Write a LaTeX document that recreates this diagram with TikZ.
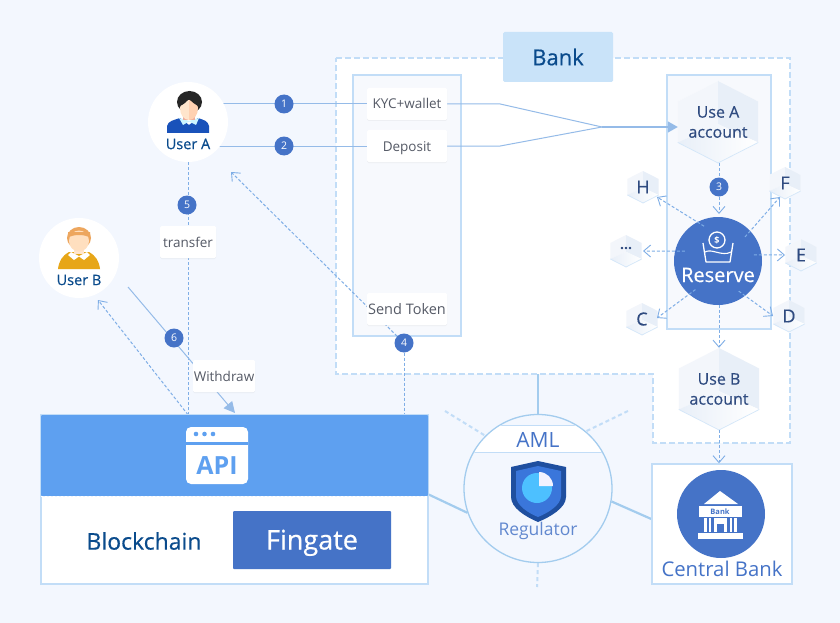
\documentclass[tikz,border=0pt]{standalone}
\usepackage{fontspec}
\setmainfont{Open Sans}
\newfontfamily\medfont[FakeBold=.5]{Open Sans}
\usetikzlibrary{arrows.meta,shadows}
\definecolor{pagebg}{HTML}{F3F7FE}
\definecolor{panelbg}{HTML}{F7F9FD}
\definecolor{edgeblue}{HTML}{C2DDF7}
\definecolor{titleblue}{HTML}{C9E3F9}
\definecolor{wireblue}{HTML}{95BBE8}
\definecolor{dashblue}{HTML}{7FAEE6}
\definecolor{deepblue}{HTML}{4573C7}
\definecolor{skyblue}{HTML}{5EA0F0}
\definecolor{navy}{HTML}{0A4B8C}
\definecolor{hexink}{HTML}{2F4B80}
\definecolor{labelink}{HTML}{555A66}
\definecolor{linkblue}{HTML}{A3CCEE}
\definecolor{hexleft}{HTML}{F3F6FB}
\definecolor{hexright}{HTML}{E8EFF8}
\definecolor{shieldedge}{HTML}{1F4F9F}
\definecolor{shieldblue}{HTML}{3A76DB}
\definecolor{piecyan}{HTML}{4DC0FF}
\pgfdeclarelayer{panel}
\pgfdeclarelayer{wires}
\pgfsetlayers{panel,wires,main}
\newcommand{\hexa}[3]{%
  \begin{scope}[shift={(#1,#2)},scale=#3]
    \fill[white] (0,-1) -- (.98,-.5) -- (.98,.5) -- (0,1) -- (-.98,.5) -- (-.98,-.5) -- cycle;
    \fill[hexleft] (0,-1) -- (0,.05) -- (-.98,.5) -- (-.98,-.5) -- cycle;
    \fill[hexright] (0,-1) -- (.98,-.5) -- (.98,.5) -- (0,.05) -- cycle;
    \shade[left color=hexright,right color=white] (0,.05) -- (.98,.5) -- (0,1) -- (-.98,.5) -- cycle;
    \draw[edgeblue!70,line width=.7pt] (-.98,.5) -- (0,1) -- (.98,.5);
  \end{scope}}
\begin{document}
\begin{tikzpicture}[x=1pt,y=-1pt,
  badge/.style={circle,fill=deepblue,text=white,inner sep=0pt,minimum size=19pt,font=\fontsize{10.5}{12}\selectfont},
  tag/.style={fill=white,text=labelink,rounded corners=1.5pt,inner sep=0pt,minimum height=32pt,text height=10pt,text depth=0pt,font=\fontsize{13.5}{15}\selectfont,drop shadow={opacity=.08,shadow xshift=0pt,shadow yshift=-1pt}},
  panelbox/.style={fill=panelbg,draw=edgeblue,line width=1.4pt,inner sep=0pt},
  whitebox/.style={fill=white,draw=edgeblue,line width=1.4pt,inner sep=0pt},
  wire/.style={draw=wireblue,line width=1pt},
  dashwire/.style={draw=dashblue,line width=1pt,dash pattern=on 3pt off 2pt},
  openarrow/.style={dashwire,-{Straight Barb[length=7pt,width=12pt,line width=.9pt]}},
  link/.style={draw=linkblue,line width=2.2pt},
  faintlink/.style={draw=edgeblue,line width=2pt,dash pattern=on 4pt off 3pt},
  whitecircle/.style={circle,fill=white,inner sep=0pt,minimum size=80pt},
  username/.style={text=navy,font=\fontsize{14.5}{16}\medfont},
  hexaccount/.style={text=hexink,align=center,inner sep=0pt,minimum width=80pt,minimum height=82pt,font=\fontsize{16}{20}\medfont},
  hexletter/.style={text=hexink,inner sep=0pt,minimum size=30pt,font=\fontsize{18}{20}\medfont}]
  \useasboundingbox (0,0) rectangle (840,623);
  % zona del banco
  \begin{pgfonlayer}{panel}
    \fill[pagebg] (0,0) rectangle (840,623);
    \fill[white] (336,58) -- (790,58) -- (790,443) -- (653,443) -- (653,374) -- (336,374) -- cycle;
    \draw[edgeblue,line width=1.5pt,dash pattern=on 6pt off 3pt] (336,58) -- (790,58) -- (790,443) -- (653,443) -- (653,374) -- (336,374) -- cycle;
    \node[panelbox,minimum width=108pt,minimum height=261pt] (frontpanel) at (407,205.5) {};
    \node[panelbox,minimum width=104pt,minimum height=254pt] (accountpanel) at (719,202) {};
  \end{pgfonlayer}
  \node[fill=titleblue,text=navy,rounded corners=1.5pt,minimum width=110pt,minimum height=50pt,inner sep=0pt,font=\fontsize{22}{24}\medfont] (banktitle) at (558,57) {Bank};
  % usuarios
  \node[whitecircle] (usera) at (188,122) {};
  \node[whitecircle] (userb) at (79,258) {};
  \fill[black!85] (189.5,102) ellipse (12.5 and 11);
  \fill[blue!65!cyan!70!black!90] (167,133) -- (167,126) .. controls (168,121) and (174,120) .. (180,118) -- (189,125) -- (198,118) .. controls (204,120) and (208,121) .. (209,126) -- (209,133) -- cycle;
  \fill[blue!20!cyan!20!white] (179,118) -- (189,121) -- (199,118) -- (196,125) -- (189,121.5) -- (183,125) -- cycle;
  \fill[red!40!brown!45!white] (183,113) rectangle (195,120);
  \fill[orange!20!white] (189,100) -- (189,120) .. controls (184,120) and (180,115) .. (180,108) .. controls (180,104) and (184,101) .. (189,100) -- cycle;
  \fill[red!20!orange!30!white] (189,100) -- (189,120) .. controls (194,120) and (198,115) .. (198,108) .. controls (198,104) and (194,101) .. (189,100) -- cycle;
  \fill[black!85] (180,106) .. controls (184,104) and (187,102) .. (189,98) .. controls (191,102) and (195,104) .. (198,106) -- (198,96) -- (180,96) -- cycle;
  \node[username] (useraname) at (188,144) {User A};
  \fill[orange!45!brown!70!yellow] (58,269) .. controls (59,261) and (62,256) .. (69,252) -- (89,252) .. controls (96,256) and (99,261) .. (100,269) -- cycle;
  \fill[white] (71,252) -- (79,256) -- (87,252) -- (90,255) -- (84,260) -- (79,256.5) -- (74,260) -- (68,255) -- cycle;
  \fill[orange!60!brown!70!white] (79,238) ellipse (12 and 11);
  \fill[orange!20!white] (74,245) rectangle (84,254);
  \fill[orange!25!white] (79,241) ellipse (10 and 10.5);
  \fill[orange!60!brown!70!white] (68,238) .. controls (72,234) and (86,234) .. (90,238) -- (90,232) -- (68,232) -- cycle;
  \node[username] (userbname) at (79,280) {User B};
  % cuentas
  \hexa{718}{122}{41}
  \hexa{719}{389}{41}
  \hexa{643}{187}{16}
  \hexa{785}{183}{16}
  \hexa{801}{255}{16}
  \hexa{789}{316}{16}
  \hexa{642}{319}{16}
  \hexa{626}{251}{16}
  \node[hexaccount] (useaccounta) at (718,122) {Use A\\account};
  \node[hexaccount] (useaccountb) at (719,389) {Use B\\account};
  \node[hexletter] (hexh) at (643,187) {H};
  \node[hexletter] (hexf) at (785,183) {F};
  \node[hexletter] (hexe) at (801,255) {E};
  \node[hexletter] (hexd) at (789,316) {D};
  \node[hexletter] (hexc) at (642,319) {C};
  \node[hexletter,font=\fontsize{14}{16}\selectfont\bfseries] (hexmore) at (626,249) {...};
  % reserva
  \node[circle,fill=deepblue,inner sep=0pt,minimum size=88pt] (reserve) at (718,261) {};
  \draw[white,line width=1.3pt] (717,240) circle (8);
  \draw[white,line width=1.3pt,line join=round] (703,243) -- (706,262) -- (730,262) -- (733,243);
  \draw[white,line width=1.1pt] (705,252) .. controls (712,248) and (722,257) .. (731,252);
  \node[text=white,inner sep=0pt,font=\fontsize{9}{10}\selectfont\bfseries] (coinsign) at (717,240) {\$};
  \node[text=white,inner sep=0pt,font=\fontsize{20}{22}\medfont] (reservename) at (718,275) {Reserve};
  % etiquetas
  \node[tag,minimum width=80pt] (kyc) at (407,104) {KYC+wallet};
  \node[tag,minimum width=80pt] (deposit) at (407,146) {Deposit};
  \node[tag,minimum width=80pt,font=\fontsize{14.5}{15}\selectfont] (sendtoken) at (407,309) {Send Token};
  \node[tag,minimum width=56pt] (transfer) at (188,242) {transfer};
  \node[tag,minimum width=62pt] (withdraw) at (224,376) {Withdraw};
  \node[badge] (step1) at (284,104) {1};
  \node[badge] (step2) at (284,146) {2};
  \node[badge] (step3) at (719,187) {3};
  \node[badge] (step4) at (404,343) {4};
  \node[badge] (step5) at (187,205) {5};
  \node[badge] (step6) at (174,338) {6};
  % cadena de bloques
  \node[whitebox,minimum width=387pt,minimum height=169pt] (chainbox) at (234.5,499.5) {};
  \node[fill=skyblue,rounded corners=1pt,inner sep=0pt,minimum width=387pt,minimum height=81pt] (apiband) at (234.5,455.5) {};
  \draw[white,line width=.7pt,dash pattern=on 2pt off 2pt] (apiband.south west) -- (apiband.south east);
  \node[fill=white,rounded corners=5pt,inner sep=0pt,minimum width=62pt,minimum height=57pt] (apiicon) at (217,455.5) {};
  \fill[skyblue] (186,442) rectangle (248,445);
  \fill[skyblue] (196,434) circle (2.3);
  \fill[skyblue] (204.5,434) circle (2.3);
  \fill[skyblue] (213,434) circle (2.3);
  \node[text=skyblue,inner sep=0pt,font=\fontsize{25}{27}\selectfont\bfseries] (apitext) at (217,466) {API};
  \node[text=navy,inner sep=0pt,font=\fontsize{23}{24}\medfont] (blockchain) at (144,541) {Blockchain};
  \node[fill=deepblue,text=white,rounded corners=1pt,inner sep=0pt,minimum width=158pt,minimum height=58pt,text height=19pt,text depth=0pt,font=\fontsize{27}{28}\medfont] (fingate) at (312,540) {Fingate};
  % regulador
  \node[circle,fill=pagebg,draw=linkblue,line width=1.3pt,inner sep=0pt,minimum size=148pt] (regulator) at (538,488.5) {};
  \begin{scope}
    \clip (538,488.5) circle (73);
    \fill[white] (460,425) rectangle (620,452);
    \draw[edgeblue,line width=.8pt] (460,425) -- (620,425);
    \draw[edgeblue,line width=.8pt] (460,452) -- (620,452);
  \end{scope}
  \node[text=deepblue,inner sep=0pt,font=\fontsize{21}{24}\selectfont] (aml) at (538,440) {AML};
  \fill[shieldedge] (538,461) -- (566,467) -- (566,497) .. controls (566,508) and (550,517) .. (538,522) .. controls (526,517) and (511,508) .. (511,497) -- (511,467) -- cycle;
  \fill[shieldblue] (538,466) -- (561,471) -- (561,496) .. controls (561,505) and (548,513) .. (538,517) .. controls (528,513) and (516,505) .. (516,496) -- (516,471) -- cycle;
  \fill[piecyan] (537,488) circle (15);
  \fill[blue!5!white] (539,486) -- (539,472) arc (-90:0:14) -- cycle;
  \node[text=deepblue!85!white,inner sep=0pt,font=\fontsize{17.5}{20}\selectfont] (regulatorname) at (538,531) {Regulator};
  % banco central
  \node[whitebox,minimum width=140pt,minimum height=120pt] (centralbox) at (722,524) {};
  \node[circle,fill=deepblue,inner sep=0pt,minimum size=88pt] (centralcircle) at (721,514) {};
  \fill[white] (720,491) -- (738,504) -- (704,504) -- cycle;
  \fill[white] (699,506) rectangle (742,517);
  \node[text=deepblue,inner sep=0pt,font=\fontsize{7.5}{8}\selectfont\bfseries] (iconbank) at (720,511.5) {Bank};
  \fill[white] (704,518) rectangle (707,532);
  \fill[white] (709,518) rectangle (711,532);
  \fill[white] (714,518) rectangle (727,532);
  \fill[deepblue] (717,524) rectangle (724,532);
  \fill[white] (730,518) rectangle (732,532);
  \fill[white] (734,518) rectangle (737,532);
  \fill[white] (698,533) rectangle (743,539);
  \node[text=deepblue,inner sep=0pt,font=\fontsize{20.3}{22}\selectfont] (centralname) at (722,569) {Central Bank};
  % conexiones
  \coordinate (merge) at (602,127);
  \coordinate (tokentip) at (231,172);
  \coordinate (userbtip) at (98,300);
  \coordinate (userbstart) at (128,287);
  \coordinate (withdrawtip) at (235,413);
  \coordinate (bankedge) at (538,374);
  \coordinate (faintleft) at (445,411);
  \coordinate (faintright) at (628,411);
  \coordinate (faintdown) at (537,587);
  \coordinate (tiph) at (657,197);
  \coordinate (tipf) at (780,197);
  \coordinate (tipmore) at (643,251);
  \coordinate (tipe) at (785,255);
  \coordinate (tipc) at (657,318);
  \coordinate (tipd) at (773,316);
  \coordinate (tipthree) at (719,214);
  \begin{pgfonlayer}{wires}
    \draw[wire] (usera.center |- kyc.west) -- (kyc.west);
    \draw[wire] (usera.center |- deposit.west) -- (deposit.west);
    \draw[wire] (kyc.east) -- ++(53,0) -- (merge);
    \draw[wire] (deposit.east) -- ++(53,0) -- (merge);
    \draw[dashwire] (usera.south) -- (usera.south |- apiband.north);
    \draw[dashwire] (step4) -- (step4 |- apiband.north);
    \draw[openarrow] (step4) -- (tokentip);
    \draw[openarrow] (apiband.north -| transfer) -- (userbtip);
    \draw[wire,-{Triangle[length=11pt,width=11pt]}] (userbstart) -- (withdrawtip);
    \draw[link] (bankedge) -- (regulator.north);
    \draw[link] ([yshift=5pt]chainbox.east) -- (regulator.199);
    \draw[link] (regulator.-10) -- ([yshift=5pt]centralbox.west);
    \draw[faintlink] (faintleft) -- (regulator.135);
    \draw[faintlink] (faintright) -- (regulator.50);
    \draw[faintlink] (regulator.south) -- (faintdown);
  \end{pgfonlayer}
  \draw[wire,line width=1.3pt,-{Triangle[length=10pt,width=11pt]}] (merge) -- (useaccounta.west |- merge);
  \draw[dashwire] (useaccounta.south -| step3) -- (step3);
  \draw[openarrow] (step3) -- (tipthree);
  \draw[openarrow,shorten <=-8pt] (reserve.118) -- (tiph);
  \draw[openarrow,shorten <=-8pt] (reserve.43) -- (tipf);
  \draw[openarrow,shorten <=-10pt] (reserve.167) -- (tipmore);
  \draw[openarrow,shorten <=-8pt] (reserve.8) -- (tipe);
  \draw[openarrow,shorten <=-8pt] (reserve.229) -- (tipc);
  \draw[openarrow,shorten <=-8pt] (reserve.308) -- (tipd);
  \draw[openarrow] (reserve.south -| useaccountb) -- (useaccountb.north);
  \draw[openarrow] (useaccountb.south) -- (centralbox.north -| useaccountb);
\end{tikzpicture}
\end{document}
